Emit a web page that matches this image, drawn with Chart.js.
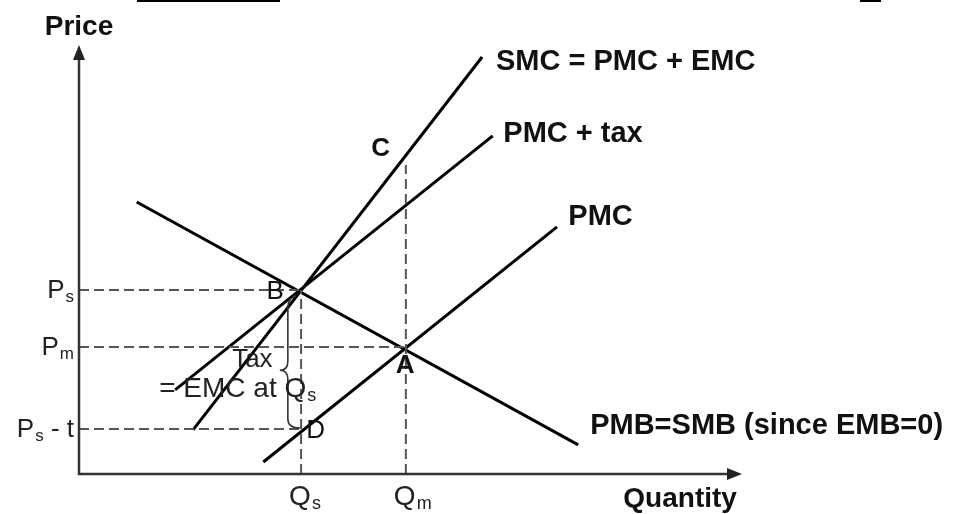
<!DOCTYPE html>
<html>
<head>
<meta charset="utf-8">
<script src="https://cdn.jsdelivr.net/npm/chart.js@4.4.1/dist/chart.umd.min.js"></script>
<style>
  html, body { margin: 0; padding: 0; background: #fff; }
</style>
</head>
<body>
<canvas id="grafica" width="956" height="514"></canvas>
<script>
// both axes run 0..100 (arbitrary units)
const smcQ = [17.2, 60.8];
const smcP = [10.3, 97.2];
const pmcTaxQ = [14.5, 62.4];
const pmcTaxP = [19.6, 78.8];
const pmcQ = [27.8, 72.1];
const pmcP = [2.8, 57.6];
const pmbQ = [8.7, 75.3];
const pmbP = [63.4, 6.8];

// Qs, Qm  /  Ps, Pm, Ps - t
const qTicks = [33.5, 49.3];
const qTickLabels = [['Q', 's', ''], ['Q', 'm', '']];
const pTicks = [42.9, 29.6, 10.5];
const pTickLabels = [['P', 's', ''], ['P', 'm', ''], ['P', 's', ' - t']];
const qmGuideTop = 72.0;

const curveNames = ['SMC = PMC + EMC', 'PMC + tax', 'PMC', 'PMB=SMB (since EMB=0)'];
const curveNameQ = [62.9, 64.0, 73.8, 77.1];
const curveNameP = [94.2, 77.4, 58.0, 9.3];

const pointNames = ['C', 'B', 'A', 'D'];
const pointNameQ = [45.5, 29.6, 49.2, 35.7];
const pointNameP = [75.8, 42.4, 25.2, 10.0];
const pointNameBold = [true, false, true, false];

function seg(qs, ps) {
  return qs.map((q, i) => ({ x: q, y: ps[i] }));
}

const solid = { borderColor: '#000', borderWidth: 3, pointRadius: 0, showLine: true, fill: false };
const dashed = { borderColor: '#555', borderWidth: 2, borderDash: [10, 5], pointRadius: 0, showLine: true, fill: false };

const datasets = [
  Object.assign({ label: 'Ps', data: seg([0, qTicks[0]], [pTicks[0], pTicks[0]]) }, dashed),
  Object.assign({ label: 'Pm', data: seg([0, qTicks[1]], [pTicks[1], pTicks[1]]) }, dashed),
  Object.assign({ label: 'Ps-t', data: seg([0, qTicks[0]], [pTicks[2], pTicks[2]]) }, dashed),
  Object.assign({ label: 'Qs', data: seg([qTicks[0], qTicks[0]], [0, pTicks[0]]) }, dashed),
  Object.assign({ label: 'Qm', data: seg([qTicks[1], qTicks[1]], [0, qmGuideTop]) }, dashed),
  Object.assign({ label: 'SMC', data: seg(smcQ, smcP) }, solid),
  Object.assign({ label: 'PMC + tax', data: seg(pmcTaxQ, pmcTaxP) }, solid),
  Object.assign({ label: 'PMC', data: seg(pmcQ, pmcP) }, solid),
  Object.assign({ label: 'PMB', data: seg(pmbQ, pmbP) }, solid)
];

const REG = '"Liberation Sans", Arial, sans-serif';

function subText(ctx, x, y, parts, size, align) {
  // parts: main, subscript, rest
  ctx.font = size + 'px ' + REG;
  const w1 = ctx.measureText(parts[0]).width;
  const w3 = ctx.measureText(parts[2]).width;
  ctx.font = Math.round(size * 0.65) + 'px ' + REG;
  const w2 = ctx.measureText(parts[1]).width;
  const total = w1 + w2 + w3 + 1;
  let x0 = x;
  if (align === 'right') x0 = x - total;
  if (align === 'center') x0 = x - total / 2;
  ctx.textAlign = 'left';
  ctx.textBaseline = 'alphabetic';
  ctx.font = size + 'px ' + REG;
  ctx.fillText(parts[0], x0, y);
  ctx.font = Math.round(size * 0.65) + 'px ' + REG;
  ctx.fillText(parts[1], x0 + w1 + 1, y + 4);
  ctx.font = size + 'px ' + REG;
  ctx.fillText(parts[2], x0 + w1 + w2 + 1, y);
}

const decor = {
  id: 'decor',
  afterDatasetsDraw(chart) {
    const ctx = chart.ctx;
    const xs = chart.scales.x, ys = chart.scales.y;
    const X = v => xs.getPixelForValue(v);
    const Y = v => ys.getPixelForValue(v);
    const a = chart.chartArea;
    ctx.save();

    // scan artefacts at the top edge
    ctx.fillStyle = '#000';
    ctx.fillRect(137, 0, 143, 2);
    ctx.fillRect(860, 0, 21, 2);

    // axes with arrows
    ctx.strokeStyle = '#333';
    ctx.lineWidth = 2.5;
    ctx.beginPath();
    ctx.moveTo(a.left, a.top + 10);
    ctx.lineTo(a.left, a.bottom);
    ctx.lineTo(a.right - 10, a.bottom);
    ctx.stroke();
    ctx.fillStyle = '#222';
    ctx.beginPath();
    ctx.moveTo(a.left, a.top);
    ctx.lineTo(a.left - 6, a.top + 15);
    ctx.lineTo(a.left + 6, a.top + 15);
    ctx.closePath();
    ctx.fill();
    ctx.beginPath();
    ctx.moveTo(a.right, a.bottom);
    ctx.lineTo(a.right - 15, a.bottom - 6);
    ctx.lineTo(a.right - 15, a.bottom + 6);
    ctx.closePath();
    ctx.fill();

    // brace between B and D
    const bx = X(31.5);
    const bt = Y(pTicks[0]), bb = Y(pTicks[2]);
    const mid = Y(24.2);
    ctx.strokeStyle = '#333';
    ctx.lineWidth = 1.6;
    ctx.beginPath();
    ctx.moveTo(bx + 8, bt + 6);
    ctx.quadraticCurveTo(bx, bt + 8, bx, bt + 18);
    ctx.lineTo(bx, mid - 9);
    ctx.quadraticCurveTo(bx, mid, bx - 8, mid);
    ctx.quadraticCurveTo(bx, mid, bx, mid + 9);
    ctx.lineTo(bx, bb - 10);
    ctx.quadraticCurveTo(bx, bb - 1, bx + 12, bb - 1);
    ctx.stroke();

    // axis titles
    ctx.fillStyle = '#111';
    ctx.font = 'bold 28px ' + REG;
    ctx.textAlign = 'center';
    ctx.textBaseline = 'alphabetic';
    ctx.fillText('Price', X(0), Y(102.3));
    ctx.textAlign = 'left';
    ctx.fillText('Quantity', X(82.1), Y(-7.6));

    // curve names
    ctx.font = 'bold 29px ' + REG;
    curveNames.forEach((t, i) => {
      ctx.fillText(t, X(curveNameQ[i]), Y(curveNameP[i]));
    });

    // point names
    ctx.textAlign = 'center';
    ctx.textBaseline = 'middle';
    pointNames.forEach((t, i) => {
      ctx.font = (pointNameBold[i] ? 'bold ' : '') + '26px ' + REG;
      ctx.fillText(t, X(pointNameQ[i]), Y(pointNameP[i]));
    });

    // tax annotation
    ctx.fillStyle = '#222';
    ctx.textAlign = 'left';
    ctx.textBaseline = 'alphabetic';
    ctx.font = '26px ' + REG;
    ctx.fillText('Tax', X(23.1), Y(24.9));
    subText(ctx, X(12.1), Y(17.9), ['= EMC at Q', 's', ''], 28, 'left');

    // price and quantity tick labels
    pTicks.forEach((p, i) => {
      subText(ctx, a.left - 5, Y(p) + 8, pTickLabels[i], 26, 'right');
    });
    qTicks.forEach((q, i) => {
      subText(ctx, X(q) - 12, a.bottom + 31, qTickLabels[i], 28, 'left');
    });

    ctx.restore();
  }
};

const graph = document.querySelector('#grafica');
const noAxis = {
  type: 'linear', min: 0, max: 100,
  grid: { display: false, drawTicks: false, tickLength: 0 },
  ticks: { display: false, padding: 0 },
  border: { display: false }
};
new Chart(graph, {
  type: 'scatter',
  data: { datasets: datasets },
  options: {
    responsive: false,
    animation: false,
    layout: { padding: { left: 79, right: 214, top: 45, bottom: 40 } },
    plugins: { legend: { display: false }, tooltip: { enabled: false } },
    scales: {
      x: Object.assign({}, noAxis),
      y: Object.assign({}, noAxis)
    }
  },
  plugins: [decor]
});
</script>
</body>
</html>
